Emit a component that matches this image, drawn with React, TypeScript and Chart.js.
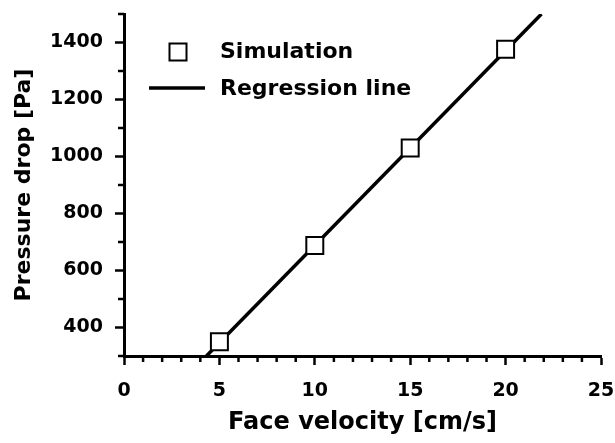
import React, { useEffect, useRef } from "react";
import { Chart, registerables } from "chart.js";

Chart.register(...registerables);

// ---- data ----
const simVelocity = [5, 10, 15, 20];
const simPressure = [350, 688, 1030, 1376];
const regressionVelocity = [4.32, 21.88];
const regressionPressure = [300, 1500];

const xTicks = [0, 5, 10, 15, 20, 25];
const yTicks = [400, 600, 800, 1000, 1200, 1400];
const xMinorTicks = [1, 2, 3, 4, 6, 7, 8, 9, 11, 12, 13, 14, 16, 17, 18, 19, 21, 22, 23, 24];
const yMinorTicks = [300, 500, 700, 900, 1100, 1300, 1500];

const seriesLabels = ["Simulation", "Regression line"];
const xTitle = "Face velocity [cm/s]";
const yTitle = "Pressure drop [Pa]";

const FONT = "'DejaVu Sans', sans-serif";

const minorTickPlugin = {
  id: "minorTicks",
  afterDraw(chart: any) {
    const { ctx, chartArea, scales } = chart;
    const x = scales.x;
    const y = scales.y;
    ctx.save();
    ctx.strokeStyle = "#000";
    ctx.lineWidth = 2.5;
    ctx.beginPath();
    for (const v of xMinorTicks) {
      const px = x.getPixelForValue(v);
      ctx.moveTo(px, chartArea.bottom);
      ctx.lineTo(px, chartArea.bottom + 6);
    }
    for (const v of yMinorTicks) {
      const py = y.getPixelForValue(v);
      ctx.moveTo(chartArea.left - 6, py);
      ctx.lineTo(chartArea.left, py);
    }
    ctx.stroke();
    ctx.restore();
  },
};

const legendPlugin = {
  id: "customLegend",
  afterDraw(chart: any) {
    const { ctx, chartArea } = chart;
    const ds = chart.data.datasets;
    const left = chartArea.left;
    const top = chartArea.top;
    ctx.save();
    // Simulation entry
    const sqX = left + 54;
    const sqY = top + 38;
    const side = 17;
    ctx.fillStyle = ds[0].pointBackgroundColor;
    ctx.strokeStyle = ds[0].pointBorderColor;
    ctx.lineWidth = ds[0].pointBorderWidth;
    ctx.fillRect(sqX - side / 2, sqY - side / 2, side, side);
    ctx.strokeRect(sqX - side / 2, sqY - side / 2, side, side);
    ctx.fillStyle = "#000";
    ctx.font = `bold 22px ${FONT}`;
    ctx.textBaseline = "middle";
    ctx.textAlign = "left";
    ctx.fillText(ds[0].label, left + 96, sqY);
    // Regression entry
    const lnY = top + 74;
    ctx.strokeStyle = ds[1].borderColor;
    ctx.lineWidth = ds[1].borderWidth;
    ctx.beginPath();
    ctx.moveTo(left + 25, lnY);
    ctx.lineTo(left + 81, lnY);
    ctx.stroke();
    ctx.fillText(ds[1].label, left + 96, lnY + 1);
    ctx.restore();
  },
};

export default function App() {
  const canvasRef = useRef<HTMLCanvasElement | null>(null);

  useEffect(() => {
    const canvas = canvasRef.current;
    if (!canvas) return;
    const chart = new Chart(canvas, {
      type: "scatter",
      data: {
        datasets: [
          {
            label: seriesLabels[0],
            data: simVelocity.map((v, i) => ({ x: v, y: simPressure[i] })),
            showLine: false,
            pointStyle: "rect",
            pointRadius: 12,
            pointHoverRadius: 12,
            pointBackgroundColor: "#ffffff",
            pointBorderColor: "#000000",
            pointBorderWidth: 2,
          } as any,
          {
            label: seriesLabels[1],
            type: "line",
            data: regressionVelocity.map((v, i) => ({ x: v, y: regressionPressure[i] })),
            showLine: true,
            borderColor: "#000000",
            borderWidth: 3.5,
            pointRadius: 0,
            pointHoverRadius: 0,
            fill: false,
            tension: 0,
          } as any,
        ],
      },
      options: {
        animation: false,
        responsive: false,
        maintainAspectRatio: false,
        events: [],
        layout: { padding: { top: 10, right: 12, left: 0, bottom: 0 } },
        plugins: {
          legend: { display: false },
          tooltip: { enabled: false },
          title: { display: false },
        },
        scales: {
          x: {
            type: "linear",
            min: 0,
            max: 25,
            afterBuildTicks: (scale: any) => {
              scale.ticks = xTicks.map((v) => ({ value: v }));
            },
            afterFit: (scale: any) => {
              scale.height = 87;
              scale.paddingLeft = 0;
              scale.paddingRight = 0;
            },
            border: { display: true, color: "#000", width: 3 },
            grid: {
              display: true,
              drawOnChartArea: false,
              drawTicks: true,
              tickLength: 9,
              tickWidth: 2.5,
              tickColor: "#000",
              color: "#000",
            },
            ticks: {
              autoSkip: false,
              maxRotation: 0,
              padding: 15,
              color: "#000",
              font: { family: FONT, weight: "bold", size: 19 },
              callback: (v: any) => String(v),
            },
            title: {
              display: true,
              text: xTitle,
              color: "#000",
              font: { family: FONT, weight: "bold", size: 24 },
              padding: { top: 0, bottom: 6 },
            },
          },
          y: {
            type: "linear",
            min: 300,
            max: 1500,
            afterBuildTicks: (scale: any) => {
              scale.ticks = yTicks.map((v) => ({ value: v }));
            },
            afterFit: (scale: any) => {
              scale.width = 124;
              scale.paddingTop = 0;
              scale.paddingBottom = 0;
            },
            border: { display: true, color: "#000", width: 3 },
            grid: {
              display: true,
              drawOnChartArea: false,
              drawTicks: true,
              tickLength: 9,
              tickWidth: 2.5,
              tickColor: "#000",
              color: "#000",
            },
            ticks: {
              autoSkip: false,
              padding: 12,
              color: "#000",
              font: { family: FONT, weight: "bold", size: 19 },
              callback: (v: any) => String(v),
            },
            title: {
              display: true,
              text: yTitle,
              color: "#000",
              font: { family: FONT, weight: "bold", size: 22 },
              padding: { top: 11, bottom: 0 },
            },
          },
        },
      },
      plugins: [minorTickPlugin, legendPlugin],
    } as any);
    return () => chart.destroy();
  }, []);

  return (
    <div style={{ position: "fixed", left: 0, top: 0, width: 615, height: 443, background: "#fff" }}>
      <canvas ref={canvasRef} width={615} height={443} style={{ display: "block" }} />
    </div>
  );
}
